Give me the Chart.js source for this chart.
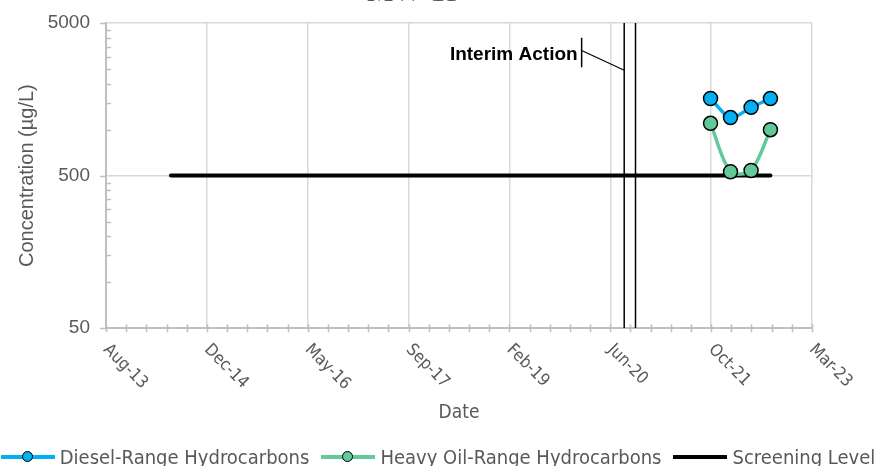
<!DOCTYPE html>
<html>
<head>
<meta charset="utf-8">
<script src="https://cdn.jsdelivr.net/npm/chart.js@4/dist/chart.umd.min.js"></script>
<style>
html, body { margin: 0; padding: 0; background: #fff; }
#wrap { position: relative; width: 876px; height: 466px; overflow: hidden; }
#chart { position: absolute; left: 0; top: -25px; }
#legend { position: absolute; left: 0; top: 445px; width: 876px; height: 24px; display: flex; justify-content: center;
  font: 20px 'DejaVu Sans Condensed', sans-serif; color: #595959; line-height: 24px; white-space: nowrap; }
.item { display: flex; align-items: center; margin: 0 6px; }
.mk { position: relative; width: 54px; height: 24px; margin-right: 5px; flex: none; }
.mk .ln { position: absolute; left: 0; right: 0; top: 10px; height: 4px; }
.mk .dot { position: absolute; left: 21px; top: 6px; width: 9px; height: 9px; border: 1.5px solid #000; border-radius: 50%; }
</style>
</head>
<body>
<div id="wrap">
  <canvas id="chart" width="876" height="491"></canvas>
  <div id="legend"></div>
</div>
<script>
// sample data
const sampleDates = ['2021-10-28', '2022-02-04', '2022-05-17', '2022-08-21'];
const dieselValues = [1600, 1200, 1400, 1600];
const heavyOilValues = [1100, 530, 540, 1000];
const screeningDates = ['2014-07-02', '2022-08-21'];
const screeningValues = [500, 500];
const interimDates = ['2020-08-26', '2020-10-21'];
// callout: bar at the end of the label, leader to the first interim line
const calloutDate = '2020-01-28';
const calloutBar = [4000, 2560];
const calloutLeader = [3300, 2450];
const calloutText = 'Interim Action';

const xMinDate = '2013-08-14';
const xMaxDate = '2023-03-15';
const yMajors = [50, 500, 5000];
const months = ['Jan', 'Feb', 'Mar', 'Apr', 'May', 'Jun', 'Jul', 'Aug', 'Sep', 'Oct', 'Nov', 'Dec'];

const blue = '#00B0F0';
const green = '#62C99A';
const grey = '#595959';
const narrow = "'DejaVu Sans Condensed', sans-serif";
const sans = '"Liberation Sans", Arial, sans-serif';

function dayOf(s) {
    return Date.UTC(+s.slice(0, 4), +s.slice(5, 7) - 1, +s.slice(8, 10)) / 864e5;
}
function fmtDay(v) {
    const d = new Date(v * 864e5);
    return months[d.getUTCMonth()] + '-' + String(d.getUTCFullYear()).slice(2);
}
const xMin = dayOf(xMinDate);
const xMax = dayOf(xMaxDate);
const isXMajor = v => (v - xMin) % 500 === 0;

// log axis ticks: majors plus k * major for k = 2..9
const yTicks = [];
yMajors.forEach(function (m, i) {
    yTicks.push(m);
    if (i < yMajors.length - 1) {
        for (let k = 2; k <= 9; k++) yTicks.push(m * k);
    }
});

function points(dates, values) {
    return dates.map((d, i) => ({x: dayOf(d), y: values[i]}));
}

const datasets = [
    {
        label: 'Diesel-Range Hydrocarbons',
        data: points(sampleDates, dieselValues),
        borderColor: blue, backgroundColor: blue, borderWidth: 3.5,
        pointRadius: 7, pointBorderColor: '#000', pointBorderWidth: 1.5,
        tension: 0.3
    },
    {
        label: 'Heavy Oil-Range Hydrocarbons',
        data: points(sampleDates, heavyOilValues),
        borderColor: green, backgroundColor: green, borderWidth: 3.5,
        pointRadius: 7, pointBorderColor: '#000', pointBorderWidth: 1.5,
        tension: 0.3
    },
    {
        label: 'Screening Level',
        data: points(screeningDates, screeningValues),
        borderColor: '#000', backgroundColor: '#000', borderWidth: 4,
        pointRadius: 0, borderCapStyle: 'round'
    }
];
interimDates.forEach(function (d) {
    datasets.push({
        label: '', data: points([d, d], [yMajors[0], yMajors[yMajors.length - 1]]),
        borderColor: '#000', borderWidth: 1.5, pointRadius: 0
    });
});
datasets.push({
    label: '', data: points([calloutDate, calloutDate], calloutBar),
    borderColor: '#000', borderWidth: 1.5, pointRadius: 0
});
datasets.push({
    label: '', data: points([calloutDate, interimDates[0]], calloutLeader),
    borderColor: '#000', borderWidth: 1.2, pointRadius: 0
});

const decor = {
    id: 'decor',
    afterDraw(chart) {
        const ctx = chart.ctx;
        const xs = chart.scales.x, ys = chart.scales.y;
        const area = chart.chartArea;
        ctx.save();
        // tick marks
        ctx.strokeStyle = '#bfbfbf';
        ctx.lineWidth = 1.5;
        xs.ticks.forEach(function (t) {
            const px = Math.round(xs.getPixelForValue(t.value)) + 0.5;
            ctx.beginPath();
            ctx.moveTo(px, area.bottom - 4);
            ctx.lineTo(px, area.bottom + 4);
            ctx.stroke();
        });
        ys.ticks.forEach(function (t) {
            const py = Math.round(ys.getPixelForValue(t.value)) + 0.5;
            const major = yMajors.includes(t.value);
            ctx.beginPath();
            ctx.moveTo(major ? area.left - 6 : area.left, py);
            ctx.lineTo(major ? area.left : area.left + 5, py);
            ctx.stroke();
        });
        // rotated date labels
        ctx.fillStyle = grey;
        ctx.font = '17px ' + narrow;
        ctx.textAlign = 'left';
        ctx.textBaseline = 'middle';
        xs.ticks.forEach(function (t) {
            if (!isXMajor(t.value)) return;
            ctx.save();
            ctx.translate(xs.getPixelForValue(t.value), area.bottom + 19);
            ctx.rotate(Math.PI / 4);
            ctx.fillText(fmtDay(t.value), 0, 0);
            ctx.restore();
        });
        // callout text
        const cx = xs.getPixelForValue(dayOf(calloutDate));
        const cy = (ys.getPixelForValue(calloutBar[0]) + ys.getPixelForValue(calloutBar[1])) / 2;
        ctx.fillStyle = '#000';
        ctx.font = 'bold 19px ' + sans;
        ctx.textAlign = 'right';
        ctx.fillText(calloutText, cx - 4, cy + 2);
        ctx.restore();
    }
};

new Chart(document.getElementById('chart'), {
    type: 'line',
    data: {datasets: datasets},
    options: {
        responsive: false,
        animation: false,
        devicePixelRatio: 1,
        layout: {padding: {left: 15, right: 64, top: 0, bottom: 42}},
        plugins: {
            legend: {display: false},
            tooltip: {enabled: false},
            title: {
                display: true,
                text: 'MW-15',
                color: grey,
                font: {family: '"Liberation Serif", serif', size: 30, weight: 'normal'},
                padding: {top: 0, bottom: 12}
            }
        },
        scales: {
            x: {
                type: 'linear',
                min: xMin,
                max: xMax,
                ticks: {display: false, stepSize: 100, autoSkip: false},
                grid: {
                    drawTicks: false,
                    lineWidth: 1.5,
                    color: ctx => (ctx.tick && isXMajor(ctx.tick.value)) ? '#d9d9d9' : 'rgba(0,0,0,0)'
                },
                border: {color: '#bfbfbf', width: 2},
                title: {
                    display: true, text: 'Date', color: grey,
                    font: {family: narrow, size: 19},
                    padding: {top: 73, bottom: 0}
                }
            },
            y: {
                type: 'logarithmic',
                min: 50,
                max: 5000,
                afterBuildTicks: function (scale) {
                    scale.ticks = yTicks.map(v => ({value: v}));
                },
                afterFit: function (scale) {
                    scale.width = 91;
                },
                ticks: {
                    autoSkip: false,
                    padding: 16,
                    color: grey,
                    font: {family: sans, size: 19},
                    callback: v => yMajors.includes(v) ? String(v) : ''
                },
                grid: {
                    drawTicks: false,
                    lineWidth: 1.5,
                    color: ctx => (ctx.tick && yMajors.includes(ctx.tick.value) && ctx.tick.value !== yMajors[0]) ? '#d9d9d9' : 'rgba(0,0,0,0)'
                },
                border: {color: '#bfbfbf', width: 2},
                title: {
                    display: true, text: 'Concentration (µg/L)', color: grey,
                    font: {family: sans, size: 20},
                    padding: {top: 0, bottom: 9}
                }
            }
        }
    },
    plugins: [decor]
});

// legend built from the first three datasets
const legend = document.getElementById('legend');
datasets.slice(0, 3).forEach(function (ds) {
    const item = document.createElement('div');
    item.className = 'item';
    const mk = document.createElement('span');
    mk.className = 'mk';
    const ln = document.createElement('i');
    ln.className = 'ln';
    ln.style.background = ds.borderColor;
    mk.appendChild(ln);
    if (ds.pointRadius > 0) {
        const dot = document.createElement('i');
        dot.className = 'dot';
        dot.style.background = ds.backgroundColor;
        mk.appendChild(dot);
    }
    const tx = document.createElement('span');
    tx.textContent = ds.label;
    item.appendChild(mk);
    item.appendChild(tx);
    legend.appendChild(item);
});
</script>
</body>
</html>
